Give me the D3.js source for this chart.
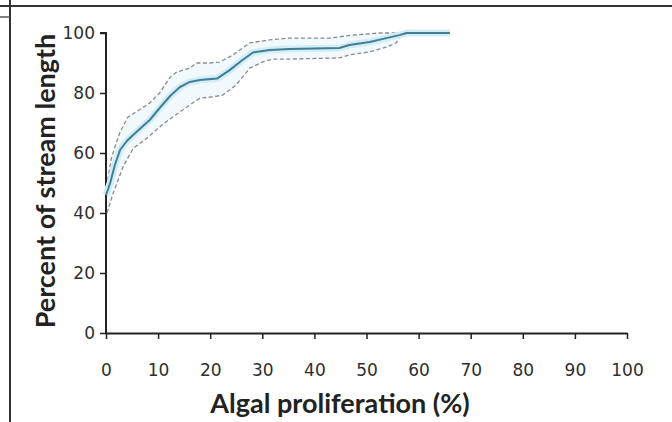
<!DOCTYPE html>
<html>
<head>
<meta charset="utf-8">
<script src="https://cdn.jsdelivr.net/npm/d3@7"></script>
<style>
  body { margin: 0; background: #fff; }
  svg { display: block; }
</style>
</head>
<body>
<div id="plot"></div>
<script>
var parentId = "plot", parent = "#" + parentId;

/*------------------------------------------*/
/*            Data                          */
/*------------------------------------------*/

// median curve (algal proliferation % vs percent of stream length)
var medianX = [0, 0.8, 1.7, 2.7, 4, 5.2, 7.1, 8.4, 10.3, 12.3, 14.2, 16.1, 18, 21.3, 23.8, 26.2, 28.2, 31.4, 35.2, 40, 44.8, 46.7, 50.6, 53.8, 56.3, 57.7, 66];
var medianY = [46, 50, 56, 61, 64, 66, 69, 71, 75, 79, 82, 83.7, 84.3, 84.8, 87.7, 91, 93.5, 94.3, 94.7, 94.8, 95, 96, 97, 98.3, 99.3, 100, 100];

// upper bound (dashed)
var upperX = [0.3, 1, 1.7, 2.7, 4.2, 6.5, 8.4, 10.3, 12.3, 13.6, 16.1, 17.4, 20, 21.8, 24.4, 27.6, 31.4, 35.2, 42.9, 47.3, 52.5, 66];
var upperY = [51, 58, 62, 67, 72, 74.5, 76.7, 80, 85.3, 87, 88.3, 90, 90, 90.3, 92.7, 96.7, 97.7, 98.3, 98.3, 99.3, 100, 100];

// lower bound (dashed)
var lowerX = [0.2, 1.4, 3.3, 5.2, 7.9, 10.3, 12.8, 16.1, 18, 20.5, 22.4, 25, 27.6, 30, 32, 35.2, 44.8, 46.7, 50.6, 53.8, 55.7, 56.7, 57.7, 66];
var lowerY = [40, 46.7, 55.5, 61.5, 65, 68.7, 72, 76, 78.3, 78.7, 79.3, 82.7, 88.3, 90.3, 91.3, 91.3, 91.7, 92.7, 93.7, 95.3, 96.7, 99.3, 100, 100];

var xTicks = [0, 10, 20, 30, 40, 50, 60, 70, 80, 90, 100];
var yTicks = [0, 20, 40, 60, 80, 100];

var xTitle = "Algal proliferation (%)",
    yTitle = "Percent of stream length";

/*------------------------------------------*/
/*            Chart                         */
/*------------------------------------------*/

var W = 672, H = 422;

var svg = d3.select(parent).append("svg")
    .attr("width", W)
    .attr("height", H);

// frame lines of the surrounding page
svg.append("line")
    .attr("x1", 0).attr("x2", W).attr("y1", 6).attr("y2", 6)
    .style("stroke", "#333").style("stroke-width", 2);
svg.append("line")
    .attr("x1", 10).attr("x2", 10).attr("y1", 0).attr("y2", H)
    .style("stroke", "#333").style("stroke-width", 2);
svg.append("line")
    .attr("x1", 0).attr("x2", 10).attr("y1", 17).attr("y2", 17)
    .style("stroke", "#555").style("stroke-width", 1.5);

var x = d3.scaleLinear().domain([0, 100]).range([106, 627]),
    y = d3.scaleLinear().domain([0, 100]).range([333, 33]);

function pts(xs, ys) {
  return xs.map(function(d, i) { return [d, ys[i]]; });
}

var median = pts(medianX, medianY),
    upper = pts(upperX, upperY),
    lower = pts(lowerX, lowerY);

var line = d3.line()
    .x(function(d) { return x(d[0]); })
    .y(function(d) { return y(d[1]); });

// faint band between the bounds
var band = upper.concat(lower.slice().reverse());
svg.append("path")
    .attr("d", line(band) + "Z")
    .style("fill", "#f1f9fc")
    .style("stroke", "none");

// axes
var xAxis = d3.axisBottom(x).tickValues(xTicks).tickSize(6).tickSizeOuter(0).tickPadding(25);
var yAxis = d3.axisLeft(y).tickValues(yTicks).tickSize(6).tickSizeOuter(0).tickPadding(5);

var gx = svg.append("g").attr("transform", "translate(0," + y(0) + ")").call(xAxis);
var gy = svg.append("g").attr("transform", "translate(" + x(0) + ",0)").call(yAxis);

[gx, gy].forEach(function(g) {
  g.select(".domain").style("stroke", "#222").style("stroke-width", 2);
  g.selectAll(".tick line").style("stroke", "#222").style("stroke-width", 1.5);
  g.selectAll(".tick text")
    .style("font-family", "'DejaVu Sans', Verdana, sans-serif")
    .style("font-size", "17px")
    .style("fill", "#2e2e2e");
});
// y axis: short cap at the top
gy.select(".domain").attr("d", "M-6," + y(100) + "H0V" + y(0));

// dashed bounds
[upper, lower].forEach(function(d) {
  svg.append("path")
    .attr("d", line(d))
    .style("fill", "none")
    .style("stroke", "#8a8a8a")
    .style("stroke-width", 1.3)
    .style("stroke-dasharray", "4,2.5");
});

// median line with a light halo
svg.append("path")
    .attr("d", line(median))
    .style("fill", "none")
    .style("stroke", "#d3ecf5")
    .style("stroke-width", 7)
    .style("stroke-linejoin", "round");
svg.append("path")
    .attr("d", line(median))
    .style("fill", "none")
    .style("stroke", "#3f7f96")
    .style("stroke-width", 2)
    .style("stroke-linejoin", "round");

// axis titles
svg.append("text")
    .attr("x", 340)
    .attr("y", 413)
    .attr("text-anchor", "middle")
    .style("font-family", "Lato, 'Open Sans', sans-serif")
    .style("font-weight", "bold")
    .style("font-size", "27px")
    .style("fill", "#222")
    .text(xTitle);

svg.append("text")
    .attr("transform", "translate(55,181) rotate(-90)")
    .attr("text-anchor", "middle")
    .style("font-family", "Lato, 'Open Sans', sans-serif")
    .style("font-weight", "bold")
    .style("font-size", "27px")
    .style("fill", "#222")
    .text(yTitle);
</script>
</body>
</html>
